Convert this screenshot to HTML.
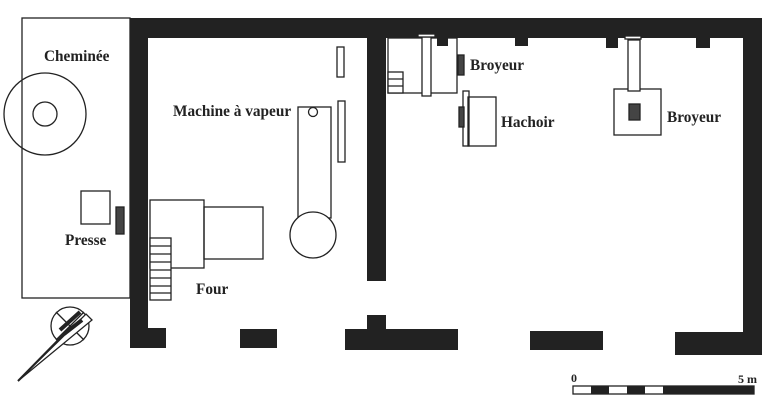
<!DOCTYPE html>
<html><head><style>body{margin:0;background:#fff}svg{display:block}text{font-family:"Liberation Serif",serif;font-weight:bold;font-size:15.3px;fill:#222}</style></head><body>
<svg width="768" height="412" viewBox="0 0 768 412" xmlns="http://www.w3.org/2000/svg">
<rect width="768" height="412" fill="#fff"/>
<g fill="#222">
<rect x="130" y="18" width="632" height="20"/>
<rect x="130" y="18" width="18" height="330"/>
<rect x="130" y="328" width="36" height="20"/>
<rect x="367" y="30" width="19" height="251"/>
<rect x="367" y="315" width="19" height="20"/>
<rect x="743" y="18" width="19" height="337"/>
<rect x="240" y="329" width="37" height="19"/>
<rect x="345" y="329" width="113" height="21"/>
<rect x="530" y="331" width="73" height="19"/>
<rect x="675" y="332" width="87" height="23"/>
<rect x="437" y="36" width="11" height="10"/>
<rect x="515" y="36" width="13" height="10"/>
<rect x="606" y="36" width="12" height="12"/>
<rect x="696" y="36" width="14" height="12"/>
</g>
<g fill="none" stroke="#222" stroke-width="1.3">
<rect x="22" y="18" width="108" height="280"/>
<circle cx="45" cy="114" r="41"/>
<circle cx="45" cy="114" r="12"/>
<rect x="81" y="191" width="29" height="33"/>
<rect x="116" y="207" width="8" height="27" fill="#444"/>
<rect x="150" y="200" width="54" height="68"/>
<rect x="204" y="207" width="59" height="52"/>
<rect x="150" y="238" width="21" height="62" fill="#fff"/>
<path d="M150 246h21M150 254h21M150 262h21M150 270h21M150 278h21M150 286h21M150 293h21"/>
<rect x="298" y="107" width="33" height="111"/>
<circle cx="313" cy="112" r="4.5"/>
<circle cx="313" cy="235" r="23" fill="#fff"/>
<rect x="337" y="47" width="7" height="30"/>
<rect x="338" y="101" width="7" height="61"/>
<rect x="388" y="38" width="69" height="55"/>
<rect x="388" y="72" width="15" height="21" fill="#fff"/>
<path d="M388 79h15M388 86h15"/>
<rect x="422" y="37" width="9" height="59" fill="#fff"/>
<rect x="418" y="34" width="17" height="3" fill="#fff"/>
<rect x="458" y="55" width="6" height="20" fill="#444"/>
<rect x="468" y="97" width="28" height="49"/>
<rect x="463" y="91" width="6" height="55"/>
<rect x="459" y="107" width="5" height="20" fill="#444"/>
<rect x="614" y="89" width="47" height="46"/>
<rect x="628" y="40" width="12" height="51" fill="#fff"/>
<rect x="625" y="36" width="16" height="3" fill="#fff"/>
<rect x="629" y="104" width="11" height="16" fill="#444"/>
<rect x="573" y="386" width="181" height="8"/>
</g>
<g fill="#222">
<rect x="591" y="386" width="18" height="8"/>
<rect x="627" y="386" width="18" height="8"/>
<rect x="663" y="386" width="91" height="8"/>
</g>
<g stroke="#222" stroke-width="1.3" fill="none">
<circle cx="70" cy="326" r="19"/>
<path d="M56 312l28 28M84 312l-28 28"/>
<path d="M18 381L92 320L86 314Z" fill="#fff"/>
<path d="M18 381L70 328" stroke-width="2"/>
<path d="M60 330l20-18M64 334l18-14" stroke-width="4"/>
</g>
<text x="44" y="61">Cheminée</text>
<text x="65" y="245">Presse</text>
<text x="196" y="294">Four</text>
<text x="173" y="116">Machine à vapeur</text>
<text x="470" y="70">Broyeur</text>
<text x="501" y="127">Hachoir</text>
<text x="667" y="122">Broyeur</text>
<text x="571" y="382" style="font-size:12px">0</text>
<text x="738" y="383" style="font-size:12px">5 m</text>
</svg>
</body></html>
